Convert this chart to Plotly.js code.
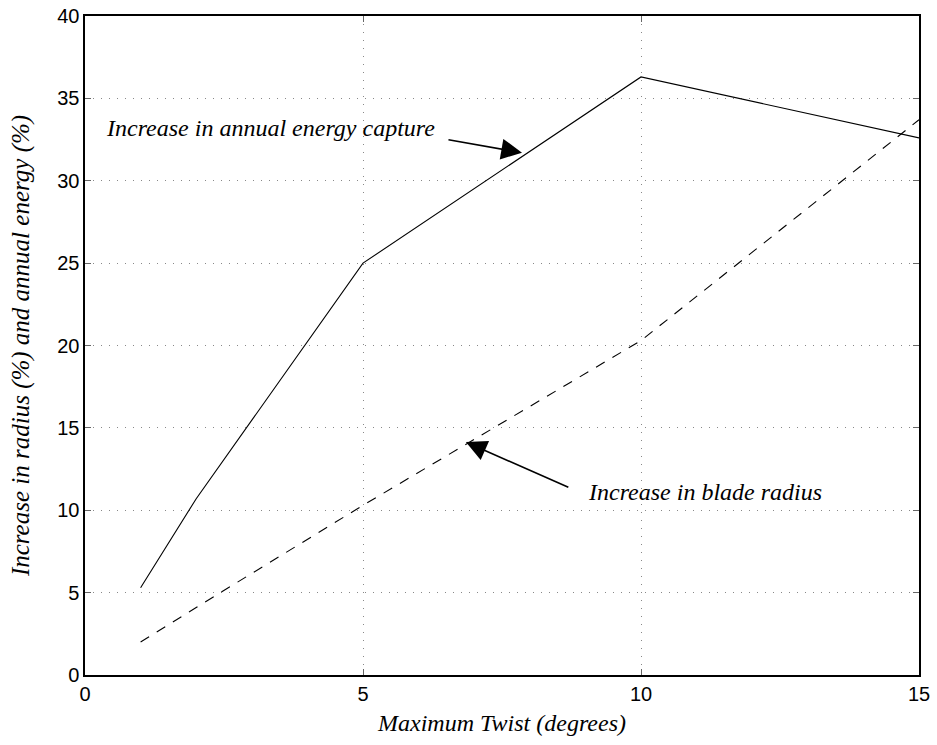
<!DOCTYPE html>
<html>
<head>
<meta charset="utf-8">
<script src="https://cdn.plot.ly/plotly-3.0.1.min.js"></script>
<style>
  html, body { margin: 0; padding: 0; background: #fff; }
  #chart { width: 937px; height: 745px; }
</style>
</head>
<body>
<div id="chart"></div>
<script>
// Maximum blade twist (degrees)
const twist = [1, 2, 5, 10, 15];
// Increase in annual energy capture (%)
const energyGain = [5.3, 10.7, 25.0, 36.3, 32.6];
// Increase in blade radius (%)
const radiusGain = [2.0, 4.1, 10.3, 20.3, 33.7];

const xTicks = [0, 5, 10, 15];
const yTicks = [0, 5, 10, 15, 20, 25, 30, 35, 40];

const serif = '"Liberation Serif", "Times New Roman", serif';
const tickFont = { family: '"Liberation Sans", Arial, sans-serif', size: 20, color: '#000' };
const xTitleFont = { family: serif, size: 24, color: '#000', style: 'italic' };
const yTitleFont = { family: serif, size: 25, color: '#000', style: 'italic' };
const noteFont = { family: serif, size: 24, color: '#000', style: 'italic' };

const traces = [
  {
    x: twist, y: energyGain, type: 'scatter', mode: 'lines',
    line: { color: '#000', width: 1.1 }, hoverinfo: 'skip', showlegend: false
  },
  {
    x: twist, y: radiusGain, type: 'scatter', mode: 'lines',
    line: { color: '#000', width: 1.1, dash: '10px,9px' }, hoverinfo: 'skip', showlegend: false
  }
];

const axisCommon = {
  showline: true, linecolor: '#000', linewidth: 1.6, mirror: 'ticks',
  ticks: 'inside', ticklen: 6, tickcolor: '#666', tickwidth: 1,
  showgrid: true, gridcolor: '#888', gridwidth: 1, griddash: '1px,7px',
  zeroline: false, tickfont: tickFont
};

const layout = {
  width: 937, height: 745,
  margin: { l: 85, r: 18, t: 16, b: 70 },
  paper_bgcolor: '#fff', plot_bgcolor: '#fff',
  xaxis: Object.assign({}, axisCommon, {
    range: [0, 15], tickvals: xTicks,
    title: { text: 'Maximum Twist (degrees)', font: xTitleFont, standoff: 10 }
  }),
  yaxis: Object.assign({}, axisCommon, {
    range: [0, 40], tickvals: yTicks,
    title: { text: 'Increase in radius (%) and annual energy (%)', font: yTitleFont, standoff: 20 }
  }),
  annotations: [
    {
      text: 'Increase in annual energy capture', x: 3.33, y: 33.2, xref: 'x', yref: 'y',
      showarrow: false, font: noteFont
    },
    {
      text: '', x: 7.86, y: 31.7, ax: 6.51, ay: 32.5, xref: 'x', yref: 'y', axref: 'x', ayref: 'y',
      showarrow: true, arrowhead: 2, arrowsize: 2.6, arrowwidth: 1.6, arrowcolor: '#000'
    },
    {
      text: 'Increase in blade radius', x: 11.15, y: 11.1, xref: 'x', yref: 'y',
      showarrow: false, font: noteFont
    },
    {
      text: '', x: 6.85, y: 14.14, ax: 8.72, ay: 11.35, xref: 'x', yref: 'y', axref: 'x', ayref: 'y',
      showarrow: true, arrowhead: 2, arrowsize: 2.6, arrowwidth: 1.6, arrowcolor: '#000'
    }
  ]
};

Plotly.newPlot('chart', traces, layout, { displayModeBar: false, staticPlot: true });
</script>
</body>
</html>
